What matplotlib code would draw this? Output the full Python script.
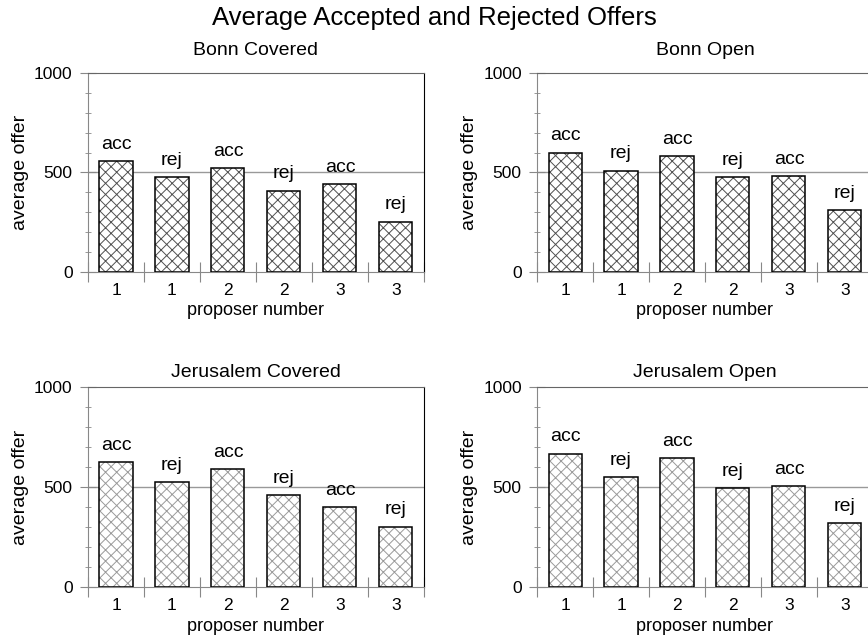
import matplotlib.pyplot as plt
import numpy as np

plt.rcParams['font.family'] = ['Liberation Sans', 'DejaVu Sans']
plt.rcParams['hatch.linewidth'] = 0.7

proposer = ["1", "1", "2", "2", "3", "3"]
outcome = ["acc", "rej", "acc", "rej", "acc", "rej"]

bonn_covered = [558, 476, 521, 409, 441, 253]
bonn_open = [600, 509, 581, 476, 482, 310]
jerusalem_covered = [623, 523, 588, 460, 400, 302]
jerusalem_open = [666, 548, 643, 493, 503, 320]

panels = [
	("Bonn Covered", bonn_covered, [0.1014, 0.5757, 0.387, 0.3105], "#505050", 13),
	("Bonn Open", bonn_open, [0.6187, 0.5757, 0.387, 0.3105], "#505050", 13),
	("Jerusalem Covered", jerusalem_covered, [0.1014, 0.0838, 0.387, 0.313], "#9a9a9a", 7),
	("Jerusalem Open", jerusalem_open, [0.6187, 0.0838, 0.387, 0.313], "#9a9a9a", 7),
]

fig = plt.figure(figsize=(8.68, 6.41), dpi=100)
fig.text(0.5, 0.961, "Average Accepted and Rejected Offers", fontsize=18.5, ha="center", va="baseline")

x = np.arange(len(proposer))
for title, values, rect, hatch_col, tpad in panels:
	ax = fig.add_axes(rect)
	# gray hatching first, then a black outline on top
	ax.bar(x, values, width=0.59, color="white", edgecolor=hatch_col, hatch="xxx", linewidth=0, zorder=2)
	ax.bar(x, values, width=0.59, fill=False, edgecolor="black", linewidth=1.1, zorder=3)
	for xi, v, lab in zip(x, values, outcome):
		ax.annotate(lab, (xi, v), xytext=(0, 6), textcoords="offset points",
			ha="center", va="bottom", fontsize=14)
	ax.axhline(500, color="#999999", linewidth=1, zorder=1)
	ax.set_xlim(-0.5, 5.5)
	ax.set_ylim(0, 1000)
	ax.set_yticks([0, 500, 1000])
	ax.set_yticks(np.arange(0, 1001, 100), minor=True)
	ax.tick_params(axis="y", which="major", direction="inout", length=12, color="#888888", labelsize=12.5, pad=5)
	ax.tick_params(axis="y", which="minor", direction="inout", length=5, color="#888888")
	# boundary ticks between bars, labels centred under each bar
	ax.set_xticks(np.arange(-0.5, 6, 1))
	ax.set_xticklabels([])
	ax.set_xticks(x, minor=True)
	ax.set_xticklabels(proposer, minor=True)
	ax.tick_params(axis="x", which="major", direction="inout", length=14, color="#888888")
	ax.tick_params(axis="x", which="minor", length=0, labelsize=12.5, pad=8)
	ax.set_xlabel("proposer number", fontsize=13, labelpad=3)
	ax.set_ylabel("average offer", fontsize=14, labelpad=4)
	ax.set_title(title, fontsize=14, pad=tpad)
	ax.spines["left"].set_color("#888888")
	ax.spines["bottom"].set_color("#888888")
	ax.spines["top"].set_color("#666666")
	ax.spines["right"].set_color("black")

plt.savefig("out.png", dpi=100)
